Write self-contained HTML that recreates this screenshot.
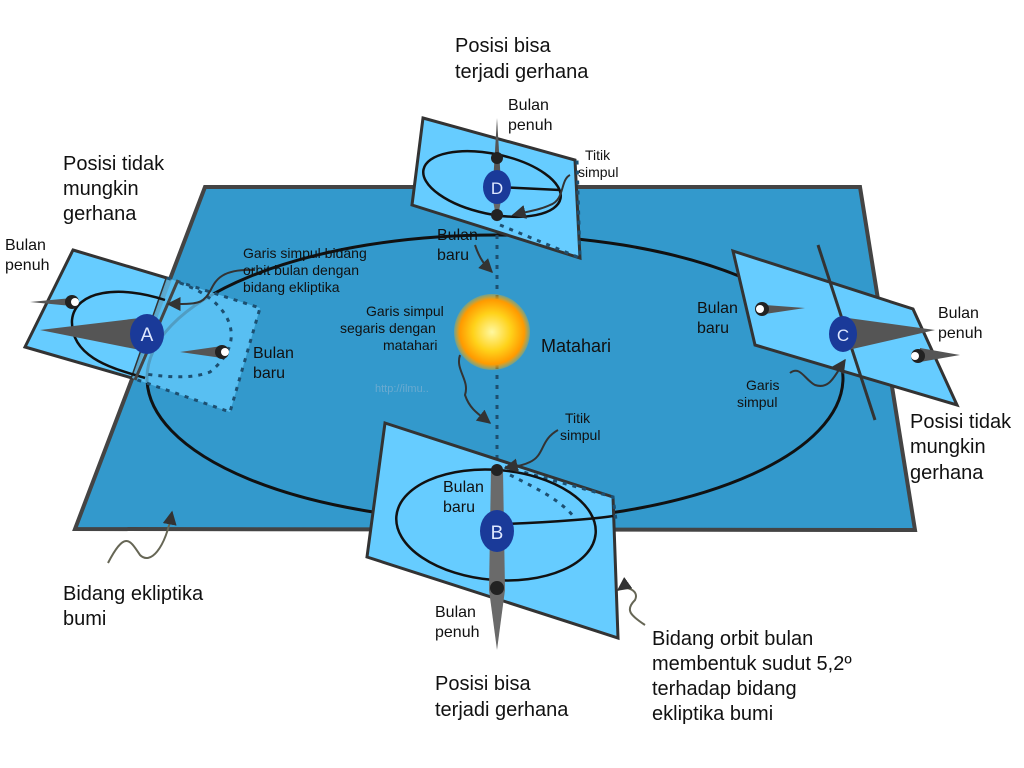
<!DOCTYPE html>
<html><head><meta charset="utf-8"><style>
html,body{margin:0;padding:0;background:#fff}
svg{display:block}
text{font-family:"Liberation Sans Narrow","Liberation Sans","DejaVu Sans",sans-serif;fill:#111}
</style></head><body>
<svg width="1024" height="768" viewBox="0 0 1024 768" xmlns="http://www.w3.org/2000/svg">
<defs>
<radialGradient id="sun" cx="50%" cy="50%" r="50%">
<stop offset="0" stop-color="#fff8a0"/><stop offset="0.5" stop-color="#ffd21a"/><stop offset="0.85" stop-color="#ff9a00"/><stop offset="1" stop-color="#ffb000" stop-opacity="0.3"/>
</radialGradient>
<marker id="ar" viewBox="0 0 10 10" refX="9" refY="5" markerWidth="7" markerHeight="7" orient="auto"><path d="M0,0L10,5L0,10z" fill="#333"/></marker>
</defs>
<polygon points="205,187 860,187 915,530 75,529" fill="#3399cc" stroke="#444" stroke-width="4"/>
<ellipse cx="495" cy="378" rx="348" ry="143" fill="none" stroke="#111" stroke-width="3"/>
<line x1="497" y1="215" x2="497" y2="470" stroke="#1d4f70" stroke-width="3" stroke-dasharray="4,6"/>
<circle cx="492" cy="332" r="38" fill="url(#sun)"/>
<text x="541" y="352" font-size="18">Matahari</text>
<text x="375" y="392" font-size="11" style="fill:#6aaad0">http://ilmu..</text>

<!-- Plane A -->
<polygon points="73,250 167,278 132,378 25,347" fill="#66ccff" stroke="#333" stroke-width="3"/>
<polygon points="167,278 260,308 230,412 132,378" fill="#66ccff" opacity="0.75"/>
<polyline points="167,278 260,308 230,412 132,378" fill="none" stroke="#1d4f70" stroke-width="3" stroke-dasharray="4,6"/>
<path d="M165,300 C120,285 75,290 72,320 C70,360 120,370 145,378" fill="none" stroke="#111" stroke-width="2.5"/>
<path d="M180,283 C230,300 250,340 210,372 C190,380 160,376 145,374" fill="none" stroke="#1d4f70" stroke-width="3" stroke-dasharray="4,6"/>
<line x1="178" y1="280" x2="135" y2="380" stroke="#444" stroke-width="3"/>
<polygon points="30,302 72,298 72,306" fill="#555"/>
<polygon points="40,330 140,318 140,350" fill="#555"/>
<polygon points="180,352 222,346 222,358" fill="#555"/>
<circle cx="72" cy="302" r="7" fill="#222"/><circle cx="75" cy="302" r="4" fill="#fff"/>
<circle cx="222" cy="352" r="7" fill="#222"/><circle cx="225" cy="352" r="4" fill="#fff"/>
<ellipse cx="147" cy="334" rx="17" ry="20" fill="#1a3a99"/>
<text x="147" y="341" font-size="19" text-anchor="middle" style="fill:#dfe8ff">A</text>

<!-- Plane D -->
<polygon points="423,118 575,160 580,258 412,205" fill="#66ccff" stroke="#333" stroke-width="3"/>
<polyline points="500,225 580,258 577,160" fill="none" stroke="#1d4f70" stroke-width="3" stroke-dasharray="4,6"/>
<path d="M497,187 L560,190" fill="none" stroke="#111" stroke-width="2.5"/>
<ellipse cx="492" cy="184" rx="70" ry="30" transform="rotate(12 492 184)" fill="none" stroke="#111" stroke-width="2.5"/>
<polygon points="497,118 492,200 502,200" fill="#555"/>
<polygon points="492,195 502,195 497,222" fill="#666"/>
<circle cx="497" cy="158" r="6" fill="#222"/>
<circle cx="497" cy="215" r="6" fill="#222"/>
<ellipse cx="497" cy="187" rx="14" ry="17" fill="#1a3a99"/>
<text x="497" y="194" font-size="17" text-anchor="middle" style="fill:#dfe8ff">D</text>

<!-- Plane C -->
<polygon points="733,251 913,309 957,405 755,345" fill="#66ccff" stroke="#333" stroke-width="3"/>
<line x1="818" y1="245" x2="875" y2="420" stroke="#333" stroke-width="3"/>
<polygon points="765,305 805,308 765,314" fill="#555"/>
<polygon points="848,318 935,330 848,350" fill="#555"/>
<polygon points="920,348 960,355 920,362" fill="#555"/>
<circle cx="762" cy="309" r="7" fill="#222"/><circle cx="760" cy="309" r="4" fill="#fff"/>
<circle cx="918" cy="356" r="7" fill="#222"/><circle cx="915" cy="356" r="4" fill="#fff"/>
<ellipse cx="843" cy="334" rx="14" ry="18" fill="#1a3a99"/>
<text x="843" y="341" font-size="17" text-anchor="middle" style="fill:#dfe8ff">C</text>

<!-- Plane B -->
<polygon points="385,423 613,497 618,638 367,557" fill="#66ccff" stroke="#333" stroke-width="3"/>
<polyline points="505,467 613,497 616,520" fill="none" stroke="#1d4f70" stroke-width="3" stroke-dasharray="4,6"/>
<path d="M510,475 C540,490 560,500 575,518" fill="none" stroke="#1d4f70" stroke-width="3" stroke-dasharray="4,6"/>
<ellipse cx="496" cy="525" rx="100" ry="55" transform="rotate(5 496 525)" fill="none" stroke="#111" stroke-width="2.5"/>
<path d="M505,524 C560,522 600,518 613,516" fill="none" stroke="#111" stroke-width="2.5"/>
<polygon points="491,470 503,470 505,590 497,650 489,590" fill="#6a6a6a"/>
<circle cx="497" cy="470" r="6" fill="#222"/>
<circle cx="497" cy="588" r="7" fill="#222"/>
<ellipse cx="497" cy="531" rx="17" ry="21" fill="#1a3a99"/>
<text x="497" y="539" font-size="19" text-anchor="middle" style="fill:#dfe8ff">B</text>

<path d="M255,270 C210,268 215,290 205,298 C200,305 185,304 168,304" fill="none" stroke="#333" stroke-width="2" marker-end="url(#ar)"/>
<path d="M460,355 C455,370 470,380 465,395 C470,410 480,415 490,423" fill="none" stroke="#333" stroke-width="2" marker-end="url(#ar)"/>
<path d="M475,245 C480,260 485,265 492,272" fill="none" stroke="#333" stroke-width="2" marker-end="url(#ar)"/>
<path d="M558,430 C540,440 545,455 530,462 C520,467 510,467 505,468" fill="none" stroke="#333" stroke-width="2" marker-end="url(#ar)"/>
<path d="M570,175 C560,180 565,200 550,205 C540,210 525,212 513,215" fill="none" stroke="#333" stroke-width="2" marker-end="url(#ar)"/>
<path d="M790,373 C800,365 805,380 815,385 C830,390 835,375 845,360" fill="none" stroke="#333" stroke-width="2" marker-end="url(#ar)"/>
<path d="M108,563 C125,530 130,540 140,555 C150,565 165,550 172,512" fill="none" stroke="#665" stroke-width="2" marker-end="url(#ar)"/>
<path d="M645,625 C630,615 625,610 635,600 C640,590 625,585 618,590" fill="none" stroke="#665" stroke-width="2" marker-end="url(#ar)"/>

<g font-size="20">
<text x="63" y="170">Posisi tidak</text><text x="63" y="195">mungkin</text><text x="63" y="220">gerhana</text>
<text x="455" y="52">Posisi bisa</text><text x="455" y="78">terjadi gerhana</text>
<text x="910" y="428">Posisi tidak</text><text x="910" y="453">mungkin</text><text x="910" y="479">gerhana</text>
<text x="435" y="690">Posisi bisa</text><text x="435" y="716">terjadi gerhana</text>
<text x="63" y="600">Bidang ekliptika</text><text x="63" y="625">bumi</text>
<text x="652" y="645">Bidang orbit bulan</text><text x="652" y="670">membentuk sudut 5,2º</text><text x="652" y="695">terhadap bidang</text><text x="652" y="720">ekliptika bumi</text>
</g>
<g font-size="16">
<text x="5" y="250">Bulan</text><text x="5" y="270">penuh</text>
<text x="253" y="358">Bulan</text><text x="253" y="378">baru</text>
<text x="508" y="110">Bulan</text><text x="508" y="130">penuh</text>
<text x="437" y="240">Bulan</text><text x="437" y="260">baru</text>
<text x="697" y="313">Bulan</text><text x="697" y="333">baru</text>
<text x="938" y="318">Bulan</text><text x="938" y="338">penuh</text>
<text x="443" y="492">Bulan</text><text x="443" y="512">baru</text>
<text x="435" y="617">Bulan</text><text x="435" y="637">penuh</text>
</g>
<g font-size="14">
<text x="243" y="258">Garis simpul bidang</text><text x="243" y="275">orbit bulan dengan</text><text x="243" y="292">bidang ekliptika</text>
<text x="366" y="316">Garis simpul</text><text x="340" y="333">segaris dengan</text><text x="383" y="350">matahari</text>
<text x="585" y="160">Titik</text><text x="578" y="177">simpul</text>
<text x="565" y="423">Titik</text><text x="560" y="440">simpul</text>
<text x="746" y="390">Garis</text><text x="737" y="407">simpul</text>
</g>
</svg>
</body></html>
